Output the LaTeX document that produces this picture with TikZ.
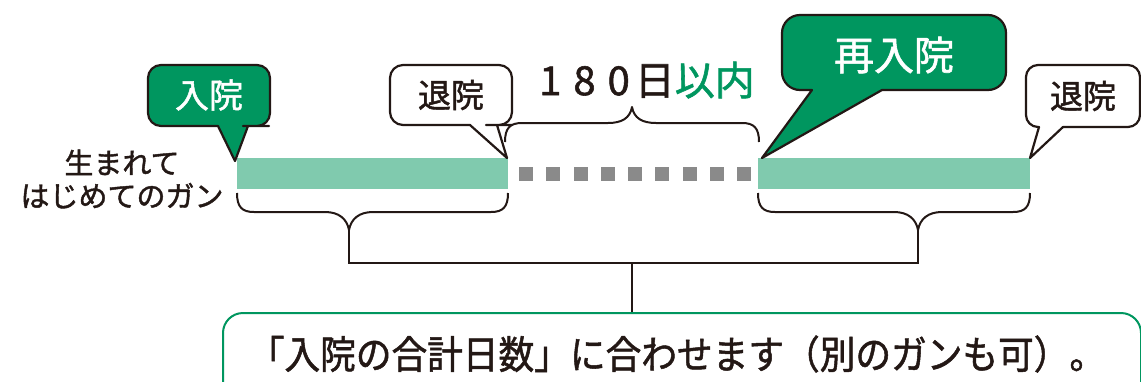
\documentclass[tikz,border=0pt]{standalone}
\usepackage{fontspec}
\setmainfont{Noto Sans CJK JP}
\newfontfamily\jpmed{Noto Sans CJK JP}[FakeBold=1.4]
\newfontfamily\jpnote{Noto Sans CJK JP}[FakeBold=1.3, FakeStretch=0.915]
\definecolor{dkgreen}{HTML}{00965F}
\definecolor{ltgreen}{HTML}{80CAAE}
\definecolor{sqgray}{HTML}{8A8A8A}
\definecolor{ink}{HTML}{231815}
\tikzset{
  bubbleG/.style={draw=ink, line width=2.2pt, fill=dkgreen, line join=round},
  bubbleW/.style={draw=ink, line width=2.2pt, fill=white, line join=round},
  bracepath/.style={draw=ink, line width=2pt, line join=round},
  conn/.style={draw=ink, line width=2pt},
  barbox/.style={fill=ltgreen, inner sep=0pt, minimum height=31pt, anchor=north west},
  sqbox/.style={fill=sqgray},
  lbl/.style={inner sep=0pt, text=ink},
  notebox/.style={draw=dkgreen, line width=2pt, rounded corners=20pt, inner sep=0pt, minimum width=918pt, minimum height=100pt, anchor=north west}
}
\begin{document}
\begin{tikzpicture}[x=1pt,y=-1pt]
\useasboundingbox (0,0) rectangle (1141,381);
\clip (0,0) rectangle (1141,381);

% bars
\node[barbox, minimum width=271pt] (bar1) at (237,158) {};
\node[barbox, minimum width=272pt] (bar2) at (758,158) {};
\foreach \i in {0,...,8} \fill[sqbox] ({519+\i*27.25},167) rectangle +(14,14);

% bubble: 入院
\draw[bubbleG] (209,65) [rounded corners=13pt] -- (270,65) -- (270,126) -- (256,126) [sharp corners] -- (248,126) -- (235,161) -- (218,126) -- (165,126) [rounded corners=13pt] -- (148,126) -- (148,65) -- cycle;
\node[lbl, text=white, font=\jpmed\fontsize{34}{34}\selectfont] (nyuin) at (209,95) {入院};

% bubble: 退院 (1)
\draw[bubbleW] (451,65) [rounded corners=13pt] -- (512,65) -- (512,125) -- (499,125) [sharp corners] -- (497,125) -- (507,158) -- (470,125) -- (420,125) [rounded corners=13pt] -- (390,125) -- (390,65) -- cycle;
\node[lbl, font=\jpmed\fontsize{33}{33}\selectfont] (taiin1) at (451,95) {退院};

% bubble: 再入院
\draw[bubbleG] (894,15) [rounded corners=18pt] -- (1006,15) -- (1006,90) -- (900,90) [sharp corners] -- (882,90) -- (762,158) -- (812,90) -- (801,90) [rounded corners=18pt] -- (782,90) -- (782,15) -- cycle;
\node[lbl, text=white, font=\jpmed\fontsize{40}{40}\selectfont] (sainyuin) at (894,55) {再入院};

% bubble: 退院 (2)
\draw[bubbleW] (1083,65) [rounded corners=12pt] -- (1140,65) -- (1140,127) -- (1075,127) [sharp corners] -- (1063,127) -- (1030,158) -- (1039,127) -- (1038.5,127) [rounded corners=12pt] -- (1026,127) -- (1026,65) -- cycle;
\node[lbl, font=\jpmed\fontsize{33}{33}\selectfont] (taiin2) at (1083,96) {退院};

% 180日以内
\node[lbl, font=\jpmed\fontsize{40}{40}\selectfont] (days) at (647,80) {1\kern12pt 8\kern12pt 0\kern5pt 日\textcolor{dkgreen}{以内}};

% left label
\node[lbl, align=center, font=\jpmed\fontsize{29}{33}\selectfont] (first) at (122,179) {生まれて\\はじめてのガン};

% top brace
\draw[bracepath] (505,142) .. controls (505,128) and (510,123) .. (522,123) -- (608,123) .. controls (622,123) and (630,118) .. (632,107) .. controls (634,118) and (642,123) .. (656,123) -- (742,123) .. controls (754,123) and (759,128) .. (759,142);

% bottom braces
\coordinate (tipL) at (349,230);
\coordinate (tipR) at (918,230);
\draw[bracepath] (237,193) .. controls (237,207) and (242,212) .. (254,212) -- (325,212) .. controls (339,212) and (347,219) .. (tipL) .. controls (351,219) and (359,212) .. (373,212) -- (491,212) .. controls (503,212) and (508,207) .. (508,193);
\draw[bracepath] (758,193) .. controls (758,207) and (763,212) .. (775,212) -- (894,212) .. controls (908,212) and (916,219) .. (tipR) .. controls (920,219) and (928,212) .. (942,212) -- (1013,212) .. controls (1025,212) and (1030,207) .. (1030,193);

% connectors
\coordinate (joint) at (632,263);
\draw[conn] (tipL) |- (joint) -| (tipR);

% note box
\node[notebox] (note) at (222,312) {};
\draw[ink, line width=1.6pt] (joint) -- (joint |- note.north);
\node[lbl, font=\jpnote\fontsize{39}{39}\selectfont] (notetext) at (677,354) {「入院の合計日数」に合わせます（別のガンも可）。};
\end{tikzpicture}
\end{document}
